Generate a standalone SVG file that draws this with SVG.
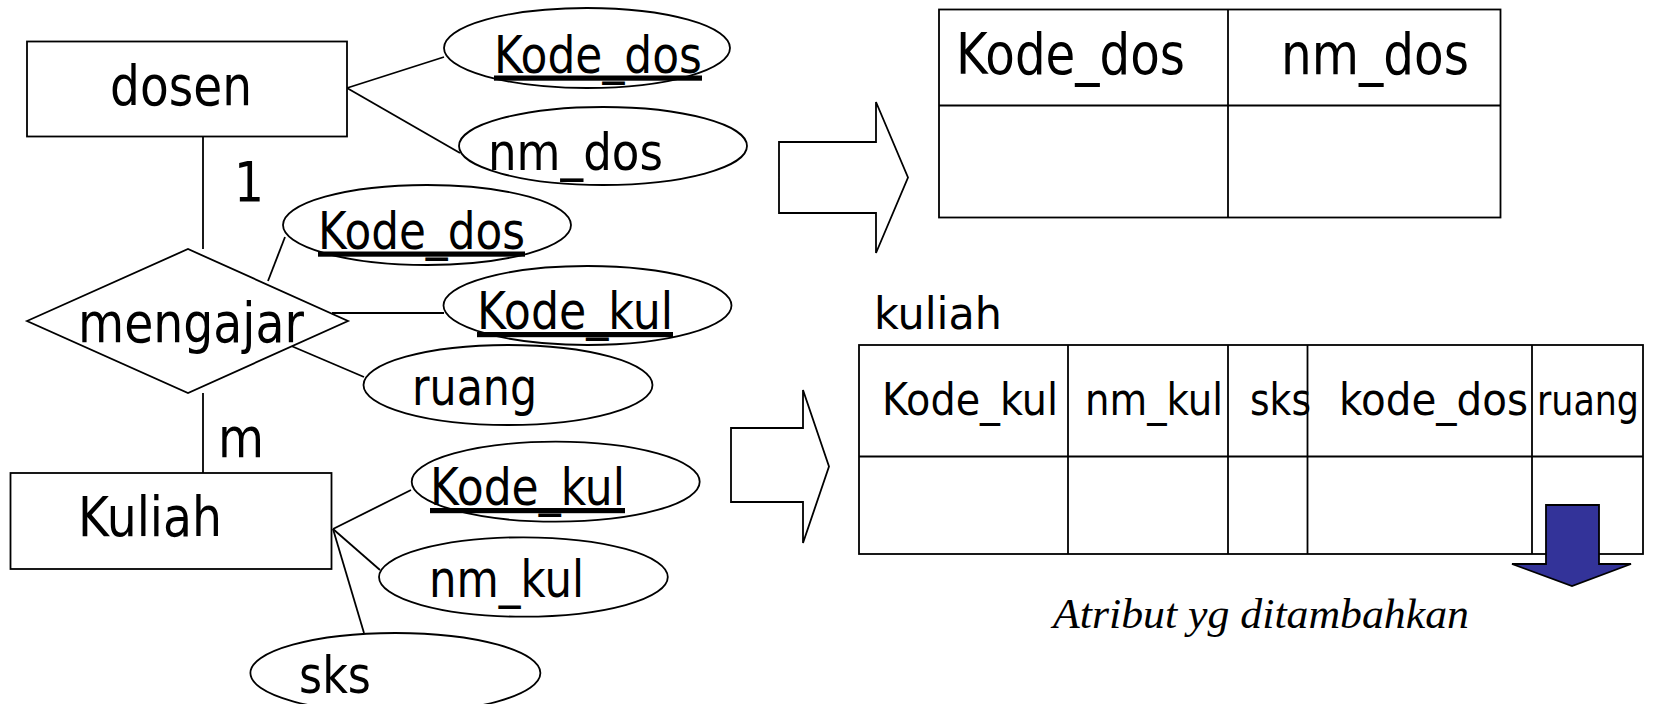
<svg xmlns="http://www.w3.org/2000/svg" width="1660" height="704" viewBox="0 0 1660 704">
<style>
.shape{fill:#fff;stroke:#000;stroke-width:1.8}
.ln{stroke:#000;stroke-width:1.8;fill:none}
.t{font-family:"DejaVu Sans",Tahoma,Verdana,sans-serif;fill:#000}
.ent{font-size:55px}
.att{font-size:52px}
.key{text-decoration:underline}
.hdr{font-size:57px}
.hdr2{font-size:44px}
.note{font-family:"Liberation Serif","Times New Roman",serif;font-style:italic;font-size:42px}
</style>
<rect x="0" y="0" width="1660" height="704" fill="#fff"/>
<g id="connectors">
<line class="ln" x1="347" y1="88" x2="444" y2="57"/>
<line class="ln" x1="347" y1="88" x2="460" y2="153"/>
<line class="ln" x1="203" y1="137" x2="203" y2="249"/>
<line class="ln" x1="203" y1="393" x2="203" y2="473"/>
<line class="ln" x1="268" y1="281" x2="285" y2="237"/>
<line class="ln" x1="332" y1="313" x2="444" y2="313"/>
<line class="ln" x1="289" y1="345" x2="364" y2="377"/>
<line class="ln" x1="333" y1="529" x2="411" y2="490"/>
<line class="ln" x1="333" y1="529" x2="380" y2="570"/>
<line class="ln" x1="333" y1="529" x2="364" y2="633"/>
</g>
<g id="dosen"><rect class="shape" x="27" y="41.5" width="320" height="95"/><text class="t ent" x="110" y="105" textLength="142" lengthAdjust="spacingAndGlyphs">dosen</text></g>
<g id="mengajar"><polygon class="shape" points="27,321 188,249 348,321 188,393"/><text class="t ent" x="78" y="342" textLength="226" lengthAdjust="spacingAndGlyphs">mengajar</text></g>
<g id="kuliah"><rect class="shape" x="10.5" y="473" width="321" height="96"/><text class="t ent" x="78" y="536" textLength="144" lengthAdjust="spacingAndGlyphs">Kuliah</text></g>
<g id="card1"><text class="t ent" x="234" y="201" textLength="30" lengthAdjust="spacingAndGlyphs">1</text></g>
<g id="cardm"><text class="t ent" x="218" y="457" textLength="46" lengthAdjust="spacingAndGlyphs">m</text></g>
<g id="att-kode-dos-1"><ellipse class="shape" cx="587" cy="48" rx="143" ry="40"/><text class="t att key" x="494" y="72.5" textLength="208" lengthAdjust="spacingAndGlyphs">Kode_dos</text></g>
<g id="att-nm-dos"><ellipse class="shape" cx="603" cy="146" rx="144" ry="39"/><text class="t att" x="488" y="170" textLength="175" lengthAdjust="spacingAndGlyphs">nm_dos</text></g>
<g id="att-kode-dos-2"><ellipse class="shape" cx="427" cy="225" rx="144" ry="40"/><text class="t att key" x="318" y="248.5" textLength="207" lengthAdjust="spacingAndGlyphs">Kode_dos</text></g>
<g id="att-kode-kul-1"><ellipse class="shape" cx="587.5" cy="305.5" rx="144" ry="39.5"/><text class="t att key" x="477" y="329" textLength="196" lengthAdjust="spacingAndGlyphs">Kode_kul</text></g>
<g id="att-ruang"><ellipse class="shape" cx="508" cy="385" rx="144.5" ry="40"/><text class="t att" x="412" y="405" textLength="125" lengthAdjust="spacingAndGlyphs">ruang</text></g>
<g id="att-kode-kul-2"><ellipse class="shape" cx="555.7" cy="481.7" rx="144" ry="40"/><text class="t att key" x="430" y="505" textLength="195" lengthAdjust="spacingAndGlyphs">Kode_kul</text></g>
<g id="att-nm-kul"><ellipse class="shape" cx="523.4" cy="577" rx="144.4" ry="39.7"/><text class="t att" x="429" y="597" textLength="155" lengthAdjust="spacingAndGlyphs">nm_kul</text></g>
<g id="att-sks"><ellipse class="shape" cx="395.4" cy="673" rx="145" ry="40"/><text class="t att" x="299" y="693" textLength="72" lengthAdjust="spacingAndGlyphs">sks</text></g>
<g id="arrow1"><polygon class="shape" points="779,142 876,142 876,102 908,177.5 876,253 876,213 779,213"/></g>
<g id="arrow2"><polygon class="shape" points="731,428 803,428 803,390 829,466.5 803,543 803,502 731,502"/></g>
<g id="table-dosen">
<rect class="shape" x="939" y="9.5" width="561.5" height="208"/>
<line class="ln" x1="1228" y1="9.5" x2="1228" y2="217.5"/>
<line class="ln" x1="939" y1="105.5" x2="1500.5" y2="105.5"/>
<text class="t hdr" x="956" y="74" textLength="229" lengthAdjust="spacingAndGlyphs">Kode_dos</text>
<text class="t hdr" x="1281" y="74" textLength="188" lengthAdjust="spacingAndGlyphs">nm_dos</text>
</g>
<g id="table-kuliah">
<text class="t" font-size="44" x="874" y="329" textLength="128" lengthAdjust="spacingAndGlyphs">kuliah</text>
<rect class="shape" x="859" y="345" width="784" height="209"/>
<line class="ln" x1="1068" y1="345" x2="1068" y2="554"/>
<line class="ln" x1="1228" y1="345" x2="1228" y2="554"/>
<line class="ln" x1="1307.5" y1="345" x2="1307.5" y2="554"/>
<line class="ln" x1="1532" y1="345" x2="1532" y2="554"/>
<line class="ln" x1="859" y1="456.5" x2="1643" y2="456.5"/>
<text class="t hdr2" x="882" y="415" textLength="176" lengthAdjust="spacingAndGlyphs">Kode_kul</text>
<text class="t hdr2" x="1085" y="415" textLength="138" lengthAdjust="spacingAndGlyphs">nm_kul</text>
<text class="t hdr2" x="1250" y="415" textLength="61" lengthAdjust="spacingAndGlyphs">sks</text>
<text class="t hdr2" x="1339" y="415" textLength="189" lengthAdjust="spacingAndGlyphs">kode_dos</text>
<text class="t" font-size="42" x="1537" y="415" textLength="102" lengthAdjust="spacingAndGlyphs">ruang</text>
</g>
<g id="blue-arrow"><polygon points="1546,505 1599,505 1599,564 1631,564 1572,586 1512,564 1546,564" fill="#333399" stroke="#000" stroke-width="1.8"/></g>
<g id="note"><text class="note" x="1053" y="628" textLength="416" lengthAdjust="spacingAndGlyphs">Atribut yg ditambahkan</text></g>
</svg>
